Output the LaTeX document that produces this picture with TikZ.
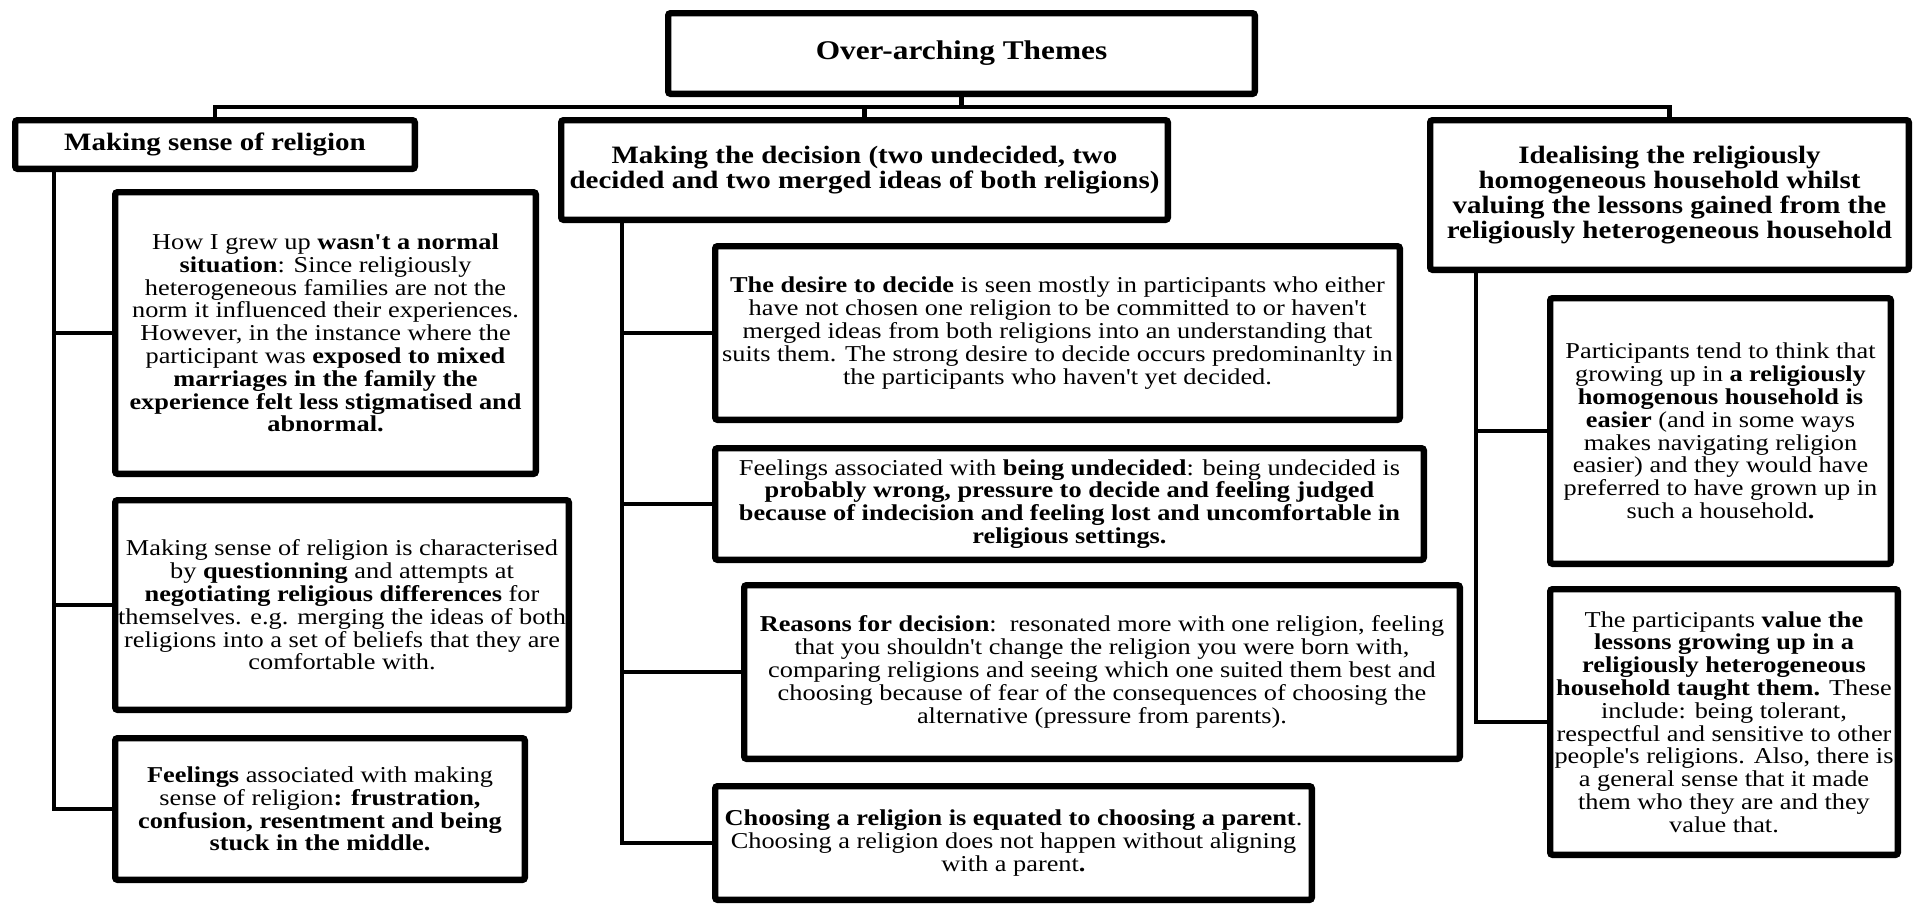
\documentclass[tikz,border=0pt]{standalone}
\usepackage{fontspec}
\setmainfont{Liberation Serif}[FakeStretch=1.16, Ligatures=TeXOff]
\usetikzlibrary{shadows}
\tikzset{
  tbox/.style={draw=black, line width=3.2pt, fill=white, rounded corners=1.2pt,
    inner sep=0pt, align=center, text=black,
    drop shadow={shadow xshift=1pt, shadow yshift=-1.3pt, opacity=0.35, fill=black}},
  body/.style={font=\fontsize{11.35}{11.4}\selectfont},
  head/.style={font=\bfseries\fontsize{12.5}{12.5}\selectfont},
  conn/.style={draw=black, line width=2.2pt},
}
\newcommand{\boxat}[7]{%
  \pgfmathsetmacro\myCX{(#2+#4)/2}%
  \pgfmathsetmacro\myCY{(#3+#5)/2}%
  \pgfmathsetmacro\myW{(#4-#2-6.4)*0.5}%
  \pgfmathsetmacro\myH{(#5-#3-6.4)*0.5}%
  \node[tbox,#6,minimum width=\myW pt,minimum height=\myH pt] (#1) at (\myCX,\myCY) {#7};}
\begin{document}
\begin{tikzpicture}[x=0.5pt,y=-0.5pt]
\fill[white] (0,0) rectangle (1919,905);
\useasboundingbox (0,0) rectangle (1919,905);

% top
\boxat{top}{665}{10}{1258}{97}{font=\bfseries\fontsize{13.5}{13.5}\selectfont}{Over-arching Themes}

% level 1
\boxat{A}{12}{117}{418}{172}{head}{Making sense of religion}
\boxat{B}{558}{117}{1171}{223}{head,font=\bfseries\fontsize{12.5}{11}\selectfont}{Making the decision (two undecided, two\\decided and two merged ideas of both religions)}
\boxat{C}{1427}{117}{1912}{273}{head}{Idealising the religiously\\homogeneous household whilst\\valuing the lessons gained from the\\religiously heterogeneous household}

% A children
\boxat{A1}{112}{189}{539}{477}{body}{How I grew up \textbf{wasn't a normal}\\\textbf{situation}: Since religiously\\heterogeneous families are not the\\norm it influenced their experiences.\\However, in the instance where the\\participant was \textbf{exposed to mixed}\\\textbf{marriages in the family the}\\\textbf{experience felt less stigmatised and}\\\textbf{abnormal.}}
\boxat{A2}{112}{497}{572}{713}{body}{Making sense of religion is characterised\\by \textbf{questionning} and attempts at\\\textbf{negotiating religious differences} for\\themselves. e.g. merging the ideas of both\\religions into a set of beliefs that they are\\comfortable with.}
\boxat{A3}{112}{735}{528}{883}{body}{\textbf{Feelings} associated with making\\sense of religion\textbf{: frustration,}\\\textbf{confusion, resentment and being}\\\textbf{stuck in the middle.}}

% B children
\boxat{B1}{712}{243}{1403}{423}{body}{\textbf{The desire to decide} is seen mostly in participants who either\\have not chosen one religion to be committed to or haven't\\merged ideas from both religions into an understanding that\\suits them. The strong desire to decide occurs predominanlty in\\the participants who haven't yet decided.}
\boxat{B2}{712}{445}{1427}{563}{body}{Feelings associated with \textbf{being undecided}: being undecided is\\\textbf{probably wrong, pressure to decide and feeling judged}\\\textbf{because of indecision and feeling lost and uncomfortable in}\\\textbf{religious settings.}}
\boxat{B3}{741}{582}{1463}{762}{body}{\textbf{Reasons for decision}:\ \ resonated more with one religion, feeling\\that you shouldn't change the religion you were born with,\\comparing religions and seeing which one suited them best and\\choosing because of fear of the consequences of choosing the\\alternative (pressure from parents).}
\boxat{B4}{712}{783}{1315}{903}{body}{\textbf{Choosing a religion is equated to choosing a parent}.\\Choosing a religion does not happen without aligning\\with a parent\textbf{.}}

% C children
\boxat{C1}{1547}{295}{1894}{567}{body}{Participants tend to think that\\growing up in \textbf{a religiously}\\\textbf{homogenous household is}\\\textbf{easier} (and in some ways\\makes navigating religion\\easier) and they would have\\preferred to have grown up in\\such a household\textbf{.}}
\boxat{C2}{1547}{586}{1901}{858}{body}{The participants \textbf{value the}\\\textbf{lessons growing up in a}\\\textbf{religiously heterogeneous}\\\textbf{household taught them.} These\\include: being tolerant,\\respectful and sensitive to other\\people's religions. Also, there is\\a general sense that it made\\them who they are and they\\value that.}

% connectors: top to level 1
\coordinate (bus) at (0,107);
\draw[conn] (top.south) -- (top.south |- bus) -| (A.north);
\draw[conn] (top.south |- bus) -| (B.north);
\draw[conn] (top.south |- bus) -| (C.north);

% trunks
\coordinate (tA) at (54,0);
\coordinate (tB) at (622,0);
\coordinate (tC) at (1476,0);
\draw[conn] (A.south -| tA) |- (A3.west);
\draw[conn] (A1.west -| tA) -- (A1.west);
\draw[conn] (A2.west -| tA) -- (A2.west);
\draw[conn] (B.south -| tB) |- (B4.west);
\draw[conn] (B1.west -| tB) -- (B1.west);
\draw[conn] (B2.west -| tB) -- (B2.west);
\draw[conn] (B3.west -| tB) -- (B3.west);
\draw[conn] (C.south -| tC) |- (C2.west);
\draw[conn] (C1.west -| tC) -- (C1.west);
\end{tikzpicture}
\end{document}
